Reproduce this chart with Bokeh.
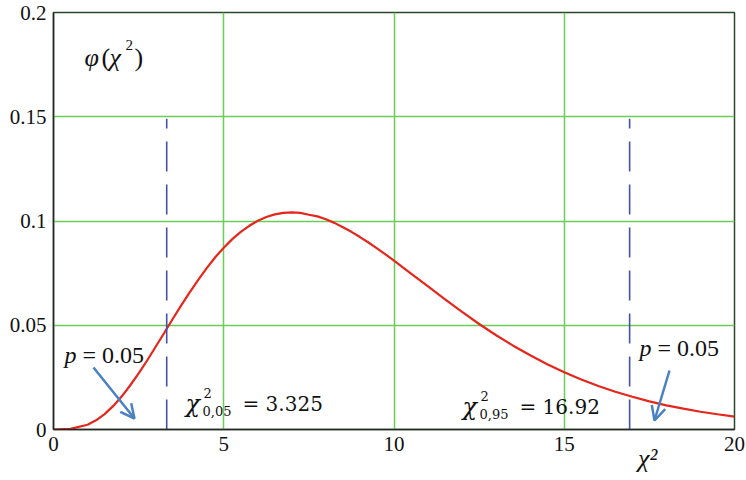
from bokeh.plotting import figure
from bokeh.models import Range1d, FixedTicker, Label, Arrow, OpenHead, LinearAxis
from bokeh.embed import file_html
from bokeh.resources import INLINE

# Chi-square density curve (argument and density value)
chi2_x = [0, 0.5, 1, 1.25, 1.5, 1.75, 2, 2.25, 2.5, 2.75, 3, 3.25, 3.5, 3.75, 4,
          4.25, 4.5, 4.75, 5, 5.25, 5.5, 5.75, 6, 6.25, 6.5, 6.75, 7, 7.25, 7.5,
          7.75, 8, 8.25, 8.5, 8.75, 9, 9.25, 9.5, 9.75, 10, 10.5, 11, 11.5, 12,
          12.5, 13, 13.5, 14, 14.5, 15, 15.5, 16, 16.5, 17, 17.5, 18, 18.5, 19,
          19.5, 20]
phi_y = [0.0, 0.0003, 0.0023, 0.0044, 0.0074, 0.0112, 0.0158, 0.0211, 0.0269,
         0.0331, 0.0397, 0.0463, 0.0530, 0.0595, 0.0658, 0.0718, 0.0774, 0.0826,
         0.0872, 0.0913, 0.0948, 0.0977, 0.1001, 0.1019, 0.1032, 0.1039, 0.1041,
         0.1039, 0.1030, 0.1022, 0.1008, 0.0991, 0.0970, 0.0948, 0.0923, 0.0897,
         0.0869, 0.0840, 0.0810, 0.0748, 0.0686, 0.0624, 0.0564, 0.0506, 0.0452,
         0.0402, 0.0356, 0.0313, 0.0275, 0.0240, 0.0209, 0.0181, 0.0157, 0.0135,
         0.0116, 0.0100, 0.0085, 0.0073, 0.0062]

# Critical values of the distribution
chi2_lower = 3.325
chi2_upper = 16.92
cutoff_top = 0.149

x_ticks = [0, 5, 10, 15, 20]
y_ticks = [0, 0.05, 0.1, 0.15, 0.2]
y_tick_labels = ["0", "0.05", "0.1", "0.15", "0.2"]
x_grid = [5, 10, 15]
y_grid = [0.05, 0.1, 0.15]
x_caption_at = 17.45

W, H = 746, 480
LEFT, RIGHT, TOP, BOTTOM = 53, 12, 12, 51
X0, X1, Y0, Y1 = 0, 20, 0, 0.2

SERIF = "Liberation Serif"
MATH = "DejaVu Serif"

p = figure(width=W, height=H, x_range=Range1d(X0, X1), y_range=Range1d(Y0, Y1),
           output_backend="svg", toolbar_location=None,
           min_border_left=LEFT, min_border_right=RIGHT,
           min_border_top=TOP, min_border_bottom=BOTTOM)
p.background_fill_color = "white"
p.border_fill_color = "white"
p.outline_line_color = "#2b472b"
p.outline_line_width = 1.5

# grid
p.xgrid.ticker = FixedTicker(ticks=x_grid)
p.ygrid.ticker = FixedTicker(ticks=y_grid)
for g in (p.xgrid, p.ygrid):
    g.grid_line_color = "#6acd55"
    g.grid_line_width = 1.5
    g.grid_line_alpha = 1.0

# axes
p.xaxis.ticker = FixedTicker(ticks=x_ticks)
p.yaxis.ticker = FixedTicker(ticks=y_ticks)
p.yaxis.major_label_overrides = {t: s for t, s in zip(y_ticks, y_tick_labels)}
for ax in (p.xaxis, p.yaxis):
    ax.axis_line_color = "#262626"
    ax.axis_line_width = 1.5
    ax.major_tick_line_color = None
    ax.minor_tick_line_color = None
    ax.major_tick_out = 0
    ax.major_tick_in = 0
    ax.major_label_text_font = SERIF
    ax.major_label_text_font_size = "21px"
    ax.major_label_text_color = "#111111"
    ax.major_label_standoff = 7

# second row under the x axis carrying the χ² caption
cap_axis = LinearAxis(ticker=FixedTicker(ticks=[x_caption_at]),
                      major_label_overrides={x_caption_at: "χ²"},
                      axis_line_color=None, major_tick_line_color=None,
                      minor_tick_line_color=None, major_tick_out=0, major_tick_in=0,
                      major_label_standoff=-10,
                      major_label_text_font=SERIF,
                      major_label_text_font_style="italic",
                      major_label_text_font_size="26px",
                      major_label_text_color="#111111")
p.add_layout(cap_axis, "below")

# density curve
p.line(chi2_x, phi_y, line_color="#e5261c", line_width=2.2)

# critical value markers
for xc in (chi2_lower, chi2_upper):
    p.line([xc, xc], [0, cutoff_top], line_color="#4252a6", line_width=1.6,
           line_dash="30 13")

fw = W - LEFT - RIGHT
fh = H - TOP - BOTTOM


def dx(px):
    return X0 + (px - LEFT) / fw * (X1 - X0)


def dy(py):
    return Y0 + (H - BOTTOM - py) / fh * (Y1 - Y0)


def put(text, px, py, size, font=SERIF, style="normal"):
    p.add_layout(Label(x=dx(px), y=dy(py), text=text, text_font=font,
                       text_font_size=f"{size}px", text_font_style=style,
                       text_color="#111111", text_align="left",
                       text_baseline="alphabetic"))


# φ(χ²) heading
put("φ", 84, 57, 26, style="italic")
put("(", 101, 57, 26)
put("χ", 109, 57, 26, style="italic")
put("2", 125, 44, 15)
put(")", 134, 57, 26)

# p = 0.05 notes
put("p", 64, 354, 24, style="italic")
put("= 0.05", 82, 354, 24)
put("p", 639, 347, 24, style="italic")
put("= 0.05", 657, 347, 24)


# critical value captions
def chi_caption(px, py, sub, val):
    put("χ", px, py, 24, MATH, style="italic")
    put("2", px + 18, py - 11, 13, MATH)
    put(sub, px + 17, py + 7, 13, MATH)
    put("= " + val, px + 57, py, 20, MATH)


chi_caption(185, 403, "0,05", "3.325")
chi_caption(462, 406, "0,95", "16.92")

# arrows toward the tails
arrow_color = "#4a80c4"
p.add_layout(Arrow(x_start=dx(93), y_start=dy(367), x_end=dx(134), y_end=dy(418),
                   line_color=arrow_color, line_width=2.5,
                   end=OpenHead(size=14, line_color=arrow_color, line_width=2.5)))
p.add_layout(Arrow(x_start=dx(669), y_start=dy(370), x_end=dx(654), y_end=dy(420),
                   line_color=arrow_color, line_width=2.5,
                   end=OpenHead(size=14, line_color=arrow_color, line_width=2.5)))

open("out.html", "w").write(file_html(p, INLINE))
